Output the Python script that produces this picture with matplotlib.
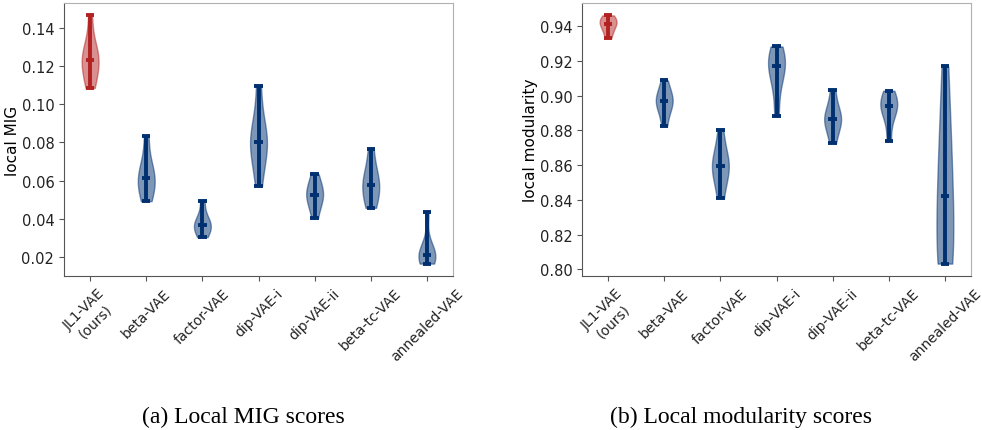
import matplotlib
matplotlib.use("Agg")
import matplotlib.pyplot as plt

plt.rcParams["font.family"] = ["DejaVu Sans"]

methods = ["JL1-VAE\n(ours)", "beta-VAE", "factor-VAE", "dip-VAE-i",
           "dip-VAE-ii", "beta-tc-VAE", "annealed-VAE"]

# local MIG samples per method
mig_jl1 = [0.1085, 0.112, 0.117, 0.121, 0.123, 0.125, 0.128, 0.133, 0.1465]
mig_beta = [0.0492, 0.054, 0.058, 0.0612, 0.064, 0.069, 0.0833]
mig_factor = [0.0304, 0.033, 0.0355, 0.0367, 0.038, 0.041, 0.0494]
mig_dipi = [0.057, 0.071, 0.077, 0.0803, 0.083, 0.090, 0.1094]
mig_dipii = [0.0405, 0.047, 0.0505, 0.0523, 0.055, 0.058, 0.0633]
mig_betatc = [0.0457, 0.050, 0.055, 0.0579, 0.061, 0.066, 0.0765]
mig_annealed = [0.0165, 0.018, 0.020, 0.0208, 0.022, 0.025, 0.0433]

# local modularity samples per method
mod_jl1 = [0.9331, 0.937, 0.940, 0.9415, 0.943, 0.9445, 0.9463]
mod_beta = [0.8826, 0.891, 0.895, 0.8968, 0.899, 0.902, 0.9088]
mod_factor = [0.841, 0.851, 0.857, 0.8597, 0.862, 0.868, 0.880]
mod_dipi = [0.8882, 0.905, 0.914, 0.9173, 0.920, 0.923, 0.9284]
mod_dipii = [0.8729, 0.881, 0.885, 0.8865, 0.889, 0.893, 0.9035]
mod_betatc = [0.874, 0.887, 0.892, 0.8941, 0.896, 0.899, 0.9029]
mod_annealed = [0.8033, 0.808, 0.815, 0.8421, 0.860, 0.880, 0.9169]

mig = [mig_jl1, mig_beta, mig_factor, mig_dipi, mig_dipii, mig_betatc, mig_annealed]
mod = [mod_jl1, mod_beta, mod_factor, mod_dipi, mod_dipii, mod_betatc, mod_annealed]

RED = "#b22222"
BLUE = "#003070"
colors = [RED] + [BLUE] * 6

fig = plt.figure(figsize=(9.82, 4.31), dpi=100)
ax1 = fig.add_axes([64/982, 1-277/431, (453-64)/982, (277-4)/431])
ax2 = fig.add_axes([582/982, 1-277/431, (971-582)/982, (277-4)/431])


def draw(ax, data, ylabel):
    pos = list(range(1, len(data) + 1))
    for p, d, c in zip(pos, data, colors):
        parts = ax.violinplot([d], positions=[p], widths=0.3,
                              showmedians=True, showextrema=True)
        for b in parts["bodies"]:
            b.set_facecolor(c)
            b.set_edgecolor(c)
            b.set_alpha(0.5)
        for k in ("cmins", "cmaxes", "cbars", "cmedians"):
            parts[k].set_color(c)
            parts[k].set_linewidth(2.8)
    ax.set_xticks(pos)
    ax.set_xticklabels(methods, rotation=45, fontsize=10)
    ax.tick_params(axis="y", labelsize=10.5)
    ax.set_ylabel(ylabel, fontsize=11)
    ax.yaxis.set_label_coords(-0.113, 0.5)
    ax.spines["left"].set_color("#555555")
    ax.spines["bottom"].set_color("#555555")
    ax.spines["top"].set_color("#b0b0b0")
    ax.spines["right"].set_color("#b0b0b0")
    ax.tick_params(colors="#555555", labelcolor="#222222")


draw(ax1, mig, "local MIG")
draw(ax2, mod, "local modularity")
ax1.set_yticks([0.02, 0.04, 0.06, 0.08, 0.10, 0.12, 0.14])
ax2.set_yticks([0.80, 0.82, 0.84, 0.86, 0.88, 0.90, 0.92, 0.94])

fig.text(0.248, 1-417/431, "(a) Local MIG scores", ha="center", va="center",
         family="Liberation Serif", fontsize=17)
fig.text(0.755, 1-417/431, "(b) Local modularity scores", ha="center", va="center",
         family="Liberation Serif", fontsize=17)

fig.savefig("out.png", dpi=100)
